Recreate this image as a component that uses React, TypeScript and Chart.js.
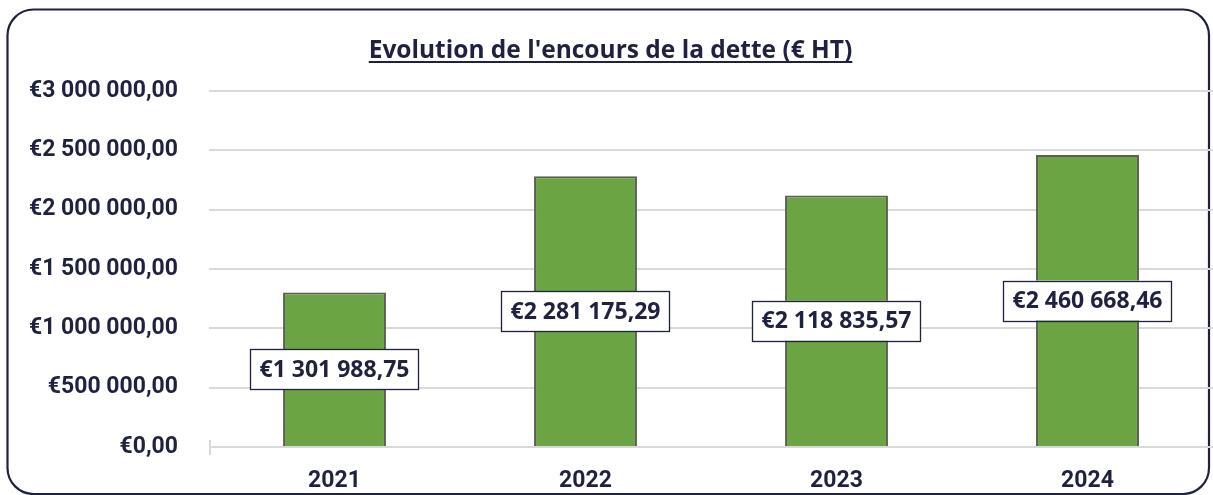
import { useEffect, useRef } from 'react';
import { Chart, registerables } from 'chart.js';

Chart.register(...registerables);

const TITLE = "Evolution de l'encours de la dette (€ HT)";
const categories = ['2021', '2022', '2023', '2024'];
const debtValues = [1301988.75, 2281175.29, 2118835.57, 2460668.46];
const yMin = 0;
const yMax = 3000000;
const yStep = 500000;

const NAVY = '#1f2140';
const BAR_GREEN = '#6aa443';
const BAR_EDGE = '#596052';
const GRID = '#d9d9d9';

function formatEuro(v: number): string {
  const [intPart, dec] = Math.abs(v).toFixed(2).split('.');
  const grouped = intPart.replace(/\B(?=(\d{3})+(?!\d))/g, ' ');
  return '€' + grouped + ',' + dec;
}

const decorPlugin = {
  id: 'decor',
  beforeDraw(chart: any) {
    const ctx = chart.ctx as CanvasRenderingContext2D;
    ctx.save();
    ctx.fillStyle = '#ffffff';
    ctx.fillRect(0, 0, chart.width, chart.height);
    ctx.beginPath();
    (ctx as any).roundRect(7.5, 9.5, chart.width - 9.5 - 2, chart.height - 10.5, 26);
    ctx.lineWidth = 2.2;
    ctx.strokeStyle = NAVY;
    ctx.stroke();
    ctx.restore();
  },
  afterDatasetsDraw(chart: any) {
    const ctx = chart.ctx as CanvasRenderingContext2D;
    const area = chart.chartArea;
    ctx.save();
    // small tick mark at the left of the category axis
    ctx.strokeStyle = GRID;
    ctx.lineWidth = 2;
    ctx.beginPath();
    ctx.moveTo(area.left + 1, area.bottom - 7);
    ctx.lineTo(area.left + 1, area.bottom + 8);
    ctx.stroke();

    // data labels
    const meta = chart.getDatasetMeta(0);
    ctx.font = 'bold 23px "Open Sans"';
    ctx.textAlign = 'center';
    ctx.textBaseline = 'middle';
    meta.data.forEach((el: any, i: number) => {
      const text = formatEuro(debtValues[i]);
      const w = ctx.measureText(text).width + 18;
      const h = 40;
      const cx = el.x;
      const cy = (el.y + el.base) / 2;
      ctx.fillStyle = '#ffffff';
      ctx.fillRect(cx - w / 2, cy - h / 2, w, h);
      ctx.strokeStyle = NAVY;
      ctx.lineWidth = 1.3;
      ctx.strokeRect(Math.round(cx - w / 2) + 0.5, Math.round(cy - h / 2) + 0.5, Math.round(w), h);
      ctx.fillStyle = NAVY;
      ctx.fillText(text, cx, cy + 1);
    });

    // title with underline
    ctx.font = 'bold 24.5px "Open Sans"';
    ctx.fillStyle = NAVY;
    ctx.textAlign = 'center';
    ctx.textBaseline = 'alphabetic';
    const tx = chart.width / 2 + 4;
    const ty = 58;
    ctx.fillText(TITLE, tx, ty);
    const tw = ctx.measureText(TITLE).width;
    ctx.fillRect(tx - tw / 2, ty + 3, tw, 2);
    ctx.restore();
  },
};

export default function App() {
  const canvasRef = useRef<HTMLCanvasElement | null>(null);

  useEffect(() => {
    if (!canvasRef.current) return;
    const chart = new Chart(canvasRef.current, {
      type: 'bar',
      data: {
        labels: categories,
        datasets: [
          {
            data: debtValues,
            backgroundColor: BAR_GREEN,
            borderColor: BAR_EDGE,
            borderWidth: 2,
            barPercentage: 0.41,
            categoryPercentage: 1,
          },
        ],
      },
      options: {
        animation: false,
        responsive: false,
        layout: { padding: { top: 91, left: 0, right: 0, bottom: 0 } },
        plugins: {
          legend: { display: false },
          tooltip: { enabled: false },
          title: { display: false },
        },
        scales: {
          x: {
            grid: { display: false },
            border: { display: false },
            ticks: {
              color: NAVY,
              font: { family: 'Roboto', weight: 'bold', size: 23 },
              padding: 12,
            },
            afterFit(scale: any) {
              scale.height = 48;
            },
          },
          y: {
            min: yMin,
            max: yMax,
            grid: { color: GRID, lineWidth: 2, drawTicks: false },
            border: { display: false },
            ticks: {
              stepSize: yStep,
              color: NAVY,
              font: { family: 'Roboto', weight: 'bold', size: 23 },
              padding: 31,
              callback: (v: any) => formatEuro(Number(v)),
            },
            afterFit(scale: any) {
              scale.width = 209;
            },
          },
        },
      },
      plugins: [decorPlugin],
    });
    return () => chart.destroy();
  }, []);

  return (
    <div style={{ position: 'fixed', left: 0, top: 0, width: 1213, height: 495, background: '#fff' }}>
      <canvas ref={canvasRef} width={1213} height={495} style={{ display: 'block' }} />
    </div>
  );
}
